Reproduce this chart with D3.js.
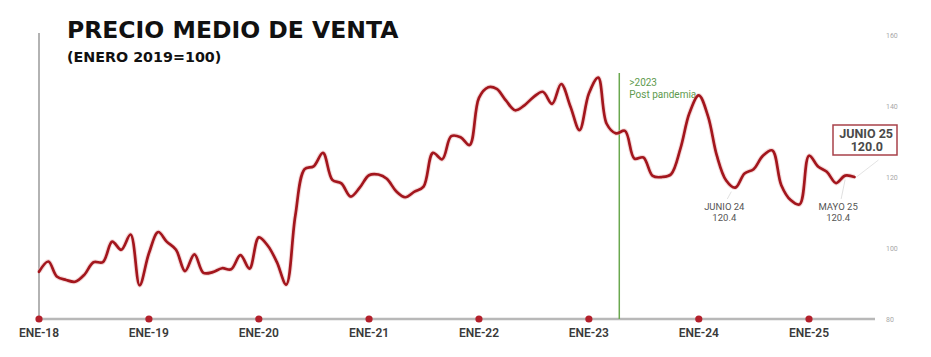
<!DOCTYPE html>
<html><head><meta charset="utf-8">
<script src="https://cdn.jsdelivr.net/npm/d3@7"></script>
<style>
html,body{margin:0;padding:0;background:#fff;}
svg{display:block;}
</style></head>
<body>
<svg id="chart" width="931" height="357"></svg>
<script>
// ---- data ----
const startYear = 2018, startMonth = 0; // enero 2018
const values = [
  93.3, 96.2, 92.0, 91.0, 90.5, 92.5, 96.0, 96.0, 101.8, 99.5, 103.8, 89.5,
  98.5, 104.5, 101.8, 99.5, 93.5, 98.2, 93.0, 93.2, 94.3, 94.0, 98.0, 94.2,
  103.0, 100.5, 96.0, 89.7, 109.0, 122.2, 123.0, 126.8, 119.2, 118.2, 114.5, 117.0,
  120.5, 120.7, 119.5, 116.0, 114.3, 115.9, 117.3, 126.8, 125.0, 131.5, 131.2, 129.0,
  142.3, 145.3, 144.8, 141.5, 138.8, 140.2, 142.5, 144.0, 140.6, 146.2, 139.8, 133.2,
  143.5, 148.0, 135.0, 132.3, 133.0, 125.2, 125.5, 120.3, 120.0, 120.8, 128.0, 138.0,
  143.0, 137.0, 126.0, 119.0, 117.0, 121.0, 122.2, 126.0, 127.5, 117.7, 113.5, 112.3,
  126.0, 122.9, 121.5, 118.3, 120.4, 120.0
];
const xTickLabels = ["ENE-18","ENE-19","ENE-20","ENE-21","ENE-22","ENE-23","ENE-24","ENE-25"];
const yTicks = [80, 100, 120, 140, 160];
const titleText = "PRECIO MEDIO DE VENTA";
const subtitleText = "(ENERO 2019=100)";
const postPandemiaMonth = 63.4; // abril 2023 approx (months since ene-18)
const postPandemiaLabel = [">2023", "Post pandemia"];
const annotations = [
  {month: 75.6, label: ["JUNIO 24", "120.4"]},
  {month: 88, label: ["MAYO 25", "120.4"]}
];
const lastLabel = ["JUNIO 25", "120.0"];

// ---- setup ----
const svg = d3.select("#chart");
const dates = values.map((v, i) => new Date(startYear, startMonth + i, 1));
const data = values.map((v, i) => ({date: dates[i], value: v}));

const x = d3.scaleTime()
  .domain([new Date(2018, 0, 1), new Date(2025, 0, 1)])
  .range([39, 809]);
const y = d3.scaleLinear().domain([80, 160]).range([319, 35]);
const monthDate = m => new Date(startYear, startMonth + Math.floor(m), 1 + (m % 1) * 30);

const red = "#a3161d";
const grey = "#555";
const narrow = "'Liberation Sans Narrow', 'Roboto', sans-serif";

// left vertical line
svg.append("line").attr("x1", 39).attr("x2", 39).attr("y1", 33).attr("y2", y(80))
  .attr("stroke", "#9a9a9a").attr("stroke-width", 1.5);

// bottom axis line
svg.append("line").attr("x1", 39).attr("x2", 875).attr("y1", y(80)).attr("y2", y(80))
  .attr("stroke", "#b8b8b8").attr("stroke-width", 2.5);

// right axis
const rightAxis = d3.axisRight(y).tickValues(yTicks).tickSize(0).tickPadding(0);
const ra = svg.append("g").attr("transform", "translate(886,0)").call(rightAxis);
ra.select(".domain").remove();
ra.selectAll("text").attr("fill", "#a8a8a8").attr("font-size", 7)
  .attr("font-family", "Roboto, 'Liberation Sans', sans-serif");

// green post pandemia line
const gx = x(monthDate(postPandemiaMonth));
svg.append("line").attr("x1", gx).attr("x2", gx).attr("y1", 73).attr("y2", y(80))
  .attr("stroke", "#6aa84f").attr("stroke-width", 1.5);
postPandemiaLabel.forEach((s, i) => {
  svg.append("text").attr("x", gx + 10).attr("y", 86 + i * 12)
    .attr("fill", "#5e9a4e").attr("font-size", 10).attr("font-family", narrow).text(s);
});

// year ticks dots + labels
const years = d3.range(0, xTickLabels.length).map(i => new Date(2018 + i, 0, 1));
svg.selectAll("circle.yr").data(years).join("circle").attr("class", "yr")
  .attr("cx", d => x(d)).attr("cy", y(80)).attr("r", 3.6).attr("fill", "#b3202b");
svg.selectAll("text.yr").data(years).join("text").attr("class", "yr")
  .attr("x", d => x(d)).attr("y", 337).attr("text-anchor", "middle")
  .attr("fill", "#3a3a3a").attr("font-size", 12).attr("font-weight", 600)
  .attr("font-family", "Roboto, 'Liberation Sans', sans-serif")
  .text((d, i) => xTickLabels[i]);

// annotation leader lines
annotations.forEach(a => {
  const px = x(monthDate(a.month));
  const v = values[Math.round(a.month)];
  svg.append("line").attr("x1", px - 4).attr("y1", 199).attr("x2", px).attr("y2", y(v) + 4)
    .attr("stroke", "#d8d8d8").attr("stroke-width", 0.8);
});

// main line
const line = d3.line().x(d => x(d.date)).y(d => y(d.value)).curve(d3.curveCatmullRom.alpha(0.5));
svg.append("path").datum(data).attr("d", line)
  .attr("fill", "none").attr("stroke", "#e9b7b7").attr("stroke-width", 4.8).attr("opacity", 0.5);
svg.append("path").datum(data).attr("d", line)
  .attr("fill", "none").attr("stroke", red).attr("stroke-width", 2.7)
  .attr("stroke-linejoin", "round").attr("stroke-linecap", "round");

// annotation labels (separate lines)
annotations.forEach(a => {
  const px = x(monthDate(a.month));
  a.label.forEach((s, i) => {
    svg.append("text").attr("x", px - 7).attr("y", 210 + i * 11).attr("text-anchor", "middle")
      .attr("fill", grey).attr("font-size", 9.5).attr("font-family", narrow).text(s);
  });
});

// last value box
const last = data[data.length - 1];
const lx = x(last.date), ly = y(last.value);
svg.append("line").attr("x1", lx + 2).attr("y1", ly).attr("x2", lx + 24).attr("y2", 160)
  .attr("stroke", "#dcdcdc").attr("stroke-width", 0.8);
svg.append("rect").attr("x", 833).attr("y", 125).attr("width", 64).attr("height", 30)
  .attr("fill", "#fff").attr("stroke", "#a8414a").attr("stroke-width", 1.5);
[[893, 137.5], [883, 151]].forEach((p, i) => {
  svg.append("text").attr("x", p[0]).attr("y", p[1]).attr("text-anchor", "end")
    .attr("fill", "#4a4a4a").attr("font-size", 12.5).attr("font-weight", 700)
    .attr("font-family", "Roboto, 'Liberation Sans', sans-serif").text(lastLabel[i]);
});

// title
svg.append("text").attr("x", 67).attr("y", 38).attr("fill", "#111")
  .attr("font-size", 23.5).attr("font-weight", 700)
  .attr("font-family", "'DejaVu Sans', sans-serif").text(titleText);
svg.append("text").attr("x", 67).attr("y", 62).attr("fill", "#111")
  .attr("font-size", 14.3).attr("font-weight", 700)
  .attr("font-family", "'DejaVu Sans', sans-serif").text(subtitleText);
</script>
</body></html>
